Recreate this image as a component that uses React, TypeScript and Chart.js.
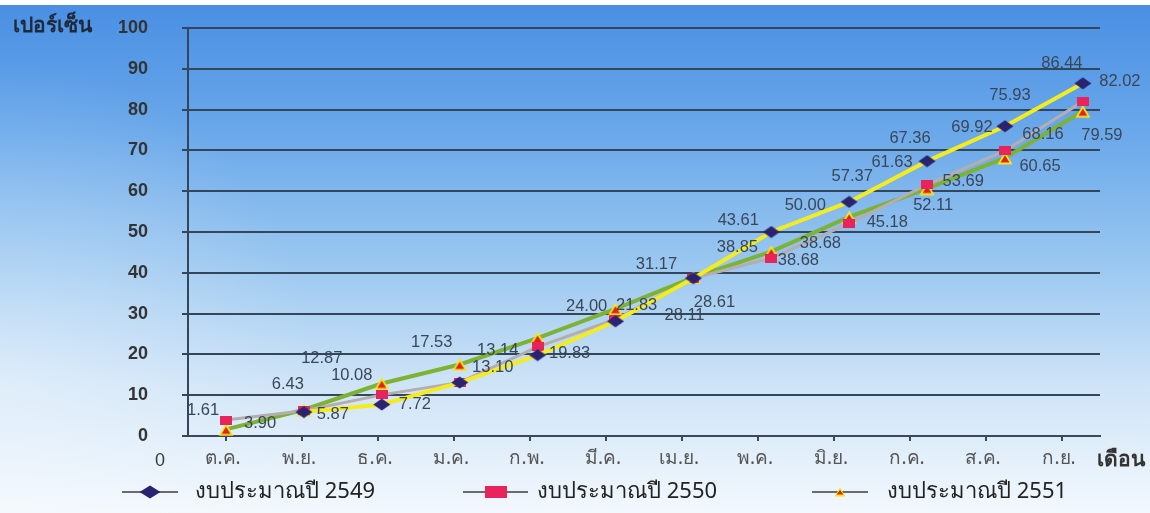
import React, { useEffect, useRef } from 'react';
import { Chart, registerables } from 'chart.js';

Chart.register(...registerables);

// ---------- data ----------
const months = ['ต.ค.', 'พ.ย.', 'ธ.ค.', 'ม.ค.', 'ก.พ.', 'มี.ค.', 'เม.ย.', 'พ.ค.', 'มิ.ย.', 'ก.ค.', 'ส.ค.', 'ก.ย.'];
const seriesNames = ['งบประมาณปี 2549', 'งบประมาณปี 2550', 'งบประมาณปี 2551'];
const budget2549: (number | null)[] = [null, 5.87, 7.72, 13.1, 19.83, 28.11, 38.68, 50.0, 57.37, 67.36, 75.93, 86.44];
const budget2550: (number | null)[] = [3.9, 6.2, 10.08, 13.14, 21.83, 28.61, 38.68, 43.61, 52.11, 61.63, 69.92, 82.02];
const budget2551: (number | null)[] = [1.61, 6.43, 12.87, 17.53, 24.0, 31.17, 38.85, 45.18, 53.69, 60.65, 68.16, 79.59];
// which points carry a printed value label (the 2550 พ.ย. point has none in the source)
const labelled2549 = [false, true, true, true, true, true, true, true, true, true, true, true];
const labelled2550 = [true, false, true, true, true, true, true, true, true, true, true, true];
const labelled2551 = [true, true, true, true, true, true, true, true, true, true, true, true];
const yMin = 0;
const yMax = 100;
const yStep = 10;
const yAxisTitle = 'เปอร์เซ็น';
const xAxisTitle = 'เดือน';
const originLabel = '0';

// ---------- styles (label offsets in px relative to their point) ----------
const off2549: ([number, number] | null)[] = [null, [29, 2], [33, 0], [33, -15], [32, -2], [69, -6], [105, -18], [34, -27], [3, -25], [-17, -23], [5, -31], [-21, -20]];
const off2550: ([number, number] | null)[] = [[34, 3], null, [-30, -19], [38, -32], [99, -41], [99, -17], [127, -35], [-33, -38], [84, -18], [-35, -22], [-33, -23], [37, -20]];
const off2551: ([number, number] | null)[] = [[-23, -19], [-16, -25], [-60, -25], [-28, -22], [49, -32], [41, -44], [44, -30], [116, -29], [114, -35], [113, -22], [38, -23], [19, 24]];

const FONT = '"Liberation Sans", Arial, "Noto Sans", "DejaVu Sans", sans-serif';
const THAI = '"Noto Sans", "DejaVu Sans", "Liberation Sans", sans-serif';

function makeDiamond(w: number, h: number) {
  const c = document.createElement('canvas');
  c.width = w; c.height = h;
  const g = c.getContext('2d')!;
  g.fillStyle = '#2a2370';
  g.beginPath();
  g.moveTo(w / 2, 0.5); g.lineTo(w - 0.5, h / 2); g.lineTo(w / 2, h - 0.5); g.lineTo(0.5, h / 2);
  g.closePath(); g.fill();
  return c;
}
function makeSquare(w: number, h: number) {
  const c = document.createElement('canvas');
  c.width = w; c.height = h;
  const g = c.getContext('2d')!;
  g.fillStyle = '#e8245c';
  g.fillRect(0, 0, w, h);
  return c;
}
function makeTriangle(w: number, h: number) {
  const c = document.createElement('canvas');
  c.width = w; c.height = h;
  const g = c.getContext('2d')!;
  g.fillStyle = '#f6e61c';
  g.beginPath(); g.moveTo(w / 2, 0.5); g.lineTo(w - 0.5, h - 0.5); g.lineTo(0.5, h - 0.5); g.closePath(); g.fill();
  g.fillStyle = '#e0221c';
  g.beginPath(); g.moveTo(w / 2, h * 0.3); g.lineTo(w * 0.78, h - 2.5); g.lineTo(w * 0.22, h - 2.5); g.closePath(); g.fill();
  return c;
}

export default function App() {
  const ref = useRef<HTMLCanvasElement>(null);

  useEffect(() => {
    const canvas = ref.current!;
    const diamond = makeDiamond(18, 13);
    const square = makeSquare(12, 9);
    const tri = makeTriangle(16, 14);
    const legDiamond = makeDiamond(22, 14);
    const legSquare = makeSquare(22, 12);
    const legTri = makeTriangle(12, 10);

    const toPts = (arr: (number | null)[]) => arr.map((v, i) => ({ x: i, y: v }));

    const bgPlugin = {
      id: 'bg',
      beforeDraw(chart: any) {
        const { ctx, width, height } = chart;
        ctx.save();
        ctx.fillStyle = '#ffffff';
        ctx.fillRect(0, 0, width, height);
        const g = ctx.createLinearGradient(0, 5, 0, height);
        g.addColorStop(0, '#4a8fe3');
        g.addColorStop(0.25, '#6aa8ea');
        g.addColorStop(0.5, '#98c6f0');
        g.addColorStop(0.75, '#cfe4f7');
        g.addColorStop(1, '#f3f8fd');
        ctx.fillStyle = g;
        ctx.fillRect(0, 5, width, height - 5);
        const r = ctx.createRadialGradient(0, 380, 0, 0, 380, 320);
        r.addColorStop(0, 'rgba(255,255,255,0.35)');
        r.addColorStop(1, 'rgba(255,255,255,0)');
        ctx.fillStyle = r;
        ctx.fillRect(0, 5, width, height - 5);
        ctx.restore();
      },
    };

    const offsets = [off2549, off2550, off2551];
    const flags = [labelled2549, labelled2550, labelled2551];
    const valueLabels = {
      id: 'valueLabels',
      afterDatasetsDraw(chart: any) {
        const ctx = chart.ctx;
        ctx.save();
        ctx.font = `16.5px ${FONT}`;
        ctx.fillStyle = '#3a4657';
        ctx.textAlign = 'center';
        ctx.textBaseline = 'middle';
        chart.data.datasets.forEach((ds: any, i: number) => {
          const meta = chart.getDatasetMeta(i);
          meta.data.forEach((el: any, j: number) => {
            const v = ds.data[j].y;
            const o = offsets[i][j];
            if (v == null || !o || !flags[i][j]) return;
            ctx.fillText(v.toFixed(2), el.x + o[0], el.y + o[1]);
          });
        });
        ctx.restore();
      },
    };

    const extras = {
      id: 'extras',
      afterDraw(chart: any) {
        const ctx = chart.ctx;
        const area = chart.chartArea;
        ctx.save();
        // axis titles
        ctx.fillStyle = '#1e2a3a';
        ctx.font = `bold 21px ${THAI}`;
        ctx.textAlign = 'left';
        ctx.textBaseline = 'middle';
        ctx.fillText(yAxisTitle, 13, area.top - 2);
        ctx.textAlign = 'center';
        ctx.fillStyle = '#333';
        ctx.fillText(xAxisTitle, area.right + 21, area.bottom + 24);
        ctx.font = `18px ${FONT}`;
        ctx.fillStyle = '#3a3a3a';
        ctx.fillText(originLabel, area.left - 28, area.bottom + 25);

        // legend
        const ly = 492;
        const items = [
          { x0: 122, x1: 178, img: legDiamond, text: 195 },
          { x0: 463, x1: 528, img: legSquare, text: 537 },
          { x0: 812, x1: 868, img: legTri, text: 887 },
        ];
        items.forEach((it, i) => {
          ctx.strokeStyle = '#6b6b6b';
          ctx.lineWidth = 2;
          ctx.beginPath();
          ctx.moveTo(it.x0, ly);
          ctx.lineTo(it.x1, ly);
          ctx.stroke();
          const cx = (it.x0 + it.x1) / 2;
          ctx.drawImage(it.img, cx - it.img.width / 2, ly - it.img.height / 2);
          ctx.fillStyle = '#222';
          ctx.font = `22px ${THAI}`;
          ctx.textAlign = 'left';
          ctx.textBaseline = 'middle';
          ctx.fillText(chart.data.datasets[i].label, it.text, ly);
        });
        ctx.restore();
      },
    };

    const chart = new Chart(canvas, {
      type: 'line',
      data: {
        labels: months,
        datasets: [
          {
            label: seriesNames[0],
            data: toPts(budget2549),
            xAxisID: 'xp',
            yAxisID: 'y',
            borderColor: '#f4ec1e',
            borderWidth: 4,
            pointStyle: diamond,
            pointRadius: 8,
            tension: 0,
          },
          {
            label: seriesNames[1],
            data: toPts(budget2550),
            xAxisID: 'xp',
            yAxisID: 'y',
            borderColor: '#b4aeb0',
            borderWidth: 3,
            pointStyle: square,
            pointRadius: 6,
            tension: 0,
          },
          {
            label: seriesNames[2],
            data: toPts(budget2551),
            xAxisID: 'xp',
            yAxisID: 'y',
            borderColor: '#7eb235',
            borderWidth: 4,
            pointStyle: tri,
            pointRadius: 8,
            tension: 0,
          },
        ] as any,
      },
      plugins: [bgPlugin, valueLabels, extras],
      options: {
        responsive: false,
        animation: false,
        layout: { padding: { top: 28, right: 50, left: 0, bottom: 0 } },
        plugins: { legend: { display: false }, tooltip: { enabled: false } },
        scales: {
          xp: {
            type: 'linear',
            display: false,
            min: -0.488,
            max: 11.22,
          },
          x: {
            type: 'category',
            position: 'bottom',
            offset: true,
            afterFit: (s: any) => { s.height = 77; },
            grid: { drawOnChartArea: false, tickLength: 5, color: '#3a4a5c', lineWidth: 2 },
            border: { display: true, color: '#3a4a5c', width: 2 },
            ticks: {
              color: '#555',
              font: { size: 19, family: THAI },
              padding: 6,
              maxRotation: 0,
              autoSkip: false,
              labelOffset: -3,
            },
          },
          y: {
            type: 'linear',
            min: yMin,
            max: yMax,
            afterFit: (s: any) => { s.width = 188; s.paddingTop = 10; s.paddingBottom = 10; },
            grid: { color: '#33465a', lineWidth: 2, tickLength: 6 },
            border: { display: true, color: '#33465a', width: 2 },
            ticks: {
              stepSize: yStep,
              color: '#333',
              padding: 34,
              font: { size: 18, weight: 'bold', family: FONT },
            },
          },
        },
      } as any,
    });
    return () => chart.destroy();
  }, []);

  return (
    <div style={{ position: 'absolute', left: 0, top: 0, width: 1150, height: 513 }}>
      <canvas ref={ref} width={1150} height={513} />
    </div>
  );
}
